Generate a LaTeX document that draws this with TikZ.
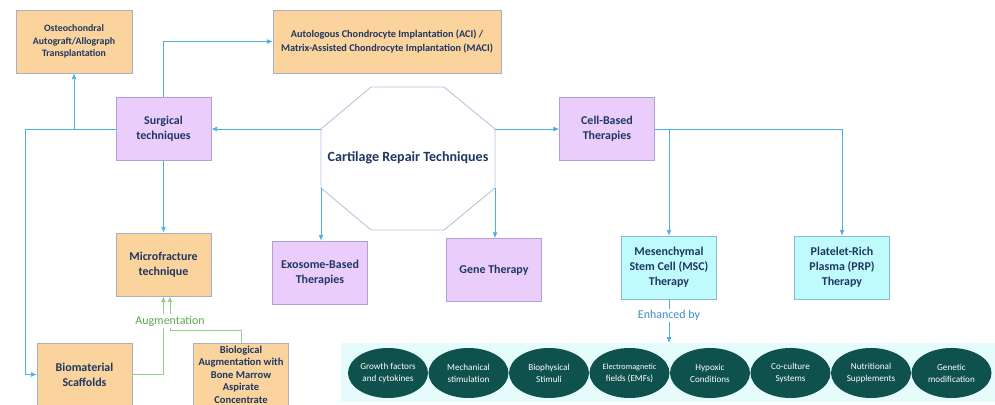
\documentclass[tikz,border=0pt]{standalone}
\usepackage{fontspec}
\setmainfont{Carlito}
\usepackage{tkz-euclide}
\usetikzlibrary{arrows.meta,shapes.geometric,positioning}

\definecolor{navy}{HTML}{1F3763}
\definecolor{peach}{HTML}{FAD49C}
\definecolor{lilac}{HTML}{EBCDFB}
\definecolor{aqua}{HTML}{BFFBFC}
\definecolor{peachline}{HTML}{A9AFC6}
\definecolor{lilacline}{HTML}{B3A0D6}
\definecolor{aqualine}{HTML}{8DB8D4}
\definecolor{octline}{HTML}{B5C1DF}
\definecolor{linkblue}{HTML}{4DAEE0}
\definecolor{auggreen}{HTML}{95CD8D}
\definecolor{augtext}{HTML}{5CA84E}
\definecolor{enhtext}{HTML}{3D8EC4}
\definecolor{bandfill}{HTML}{E6FCFC}
\definecolor{podfill}{HTML}{0E514D}

\tikzset{
  box/.style={line width=0.6pt, minimum width=2.375cm, minimum height=1.575cm,
    align=center, text=navy, inner sep=1pt,
    font=\bfseries\fontsize{8.5}{10.5}\selectfont},
  ortho/.style={box, draw=peachline, fill=peach},
  surg/.style={box, draw=lilacline, fill=lilac},
  cellbox/.style={box, draw=aqualine, fill=aqua},
  conn/.style={draw=linkblue, line width=0.5pt, -{Latex[length=4pt,width=3.5pt]}},
  augline/.style={draw=auggreen, line width=0.6pt},
  aug/.style={augline, -{Latex[length=4pt,width=3.5pt]}},
  pod/.style={ellipse, fill=podfill, text=white, minimum width=2cm,
    minimum height=1.25cm, inner sep=0pt, align=center,
    font=\fontsize{6.5}{8.5}\selectfont}
}

\begin{document}
\begin{tikzpicture}[x=0.025cm,y=-0.025cm]
  \useasboundingbox (0,0) rectangle (995,405);
  \tkzDefPoints{371/87/A,444/87/B,495/129/C,495/188/D,444/230/E,371/230/F,321/188/G,321/129/H}
  \tkzDrawPolygon[draw=octline,fill=white,line width=0.6pt](A,B,C,D,E,F,G,H)
  \node[text=navy,font=\bfseries\fontsize{10}{12}\selectfont] (crt) at (408,158) {Cartilage Repair Techniques};

  \node[ortho,minimum width=2.9cm,font=\bfseries\fontsize{7}{9}\selectfont] (osteo) at (74,41.5) {Osteochondral\\Autograft/Allograph\\Transplantation};
  \node[ortho,minimum width=5.7cm,font=\bfseries\fontsize{7.3}{10}\selectfont] (aci) at (387,41.5) {Autologous Chondrocyte Implantation (ACI) /\\Matrix-Assisted Chondrocyte Implantation (MACI)};
  \node[surg] (surgt) at (163.5,129) {Surgical\\techniques};
  \node[surg] (cellb) at (607,129) {Cell-Based\\Therapies};
  \node[ortho] (micro) at (163.5,264.5) {Microfracture\\technique};
  \node[surg] (exo) at (320,272.5) {Exosome-Based\\Therapies};
  \node[surg] (gene) at (494,270) {Gene Therapy};
  \node[cellbox] (msc) at (669,267.5) {Mesenchymal\\Stem Cell (MSC)\\Therapy};
  \node[cellbox] (prp) at (842,267.5) {Platelet-Rich\\Plasma (PRP)\\Therapy};
  \node[ortho] (bio) at (84.5,374.5) {Biomaterial\\Scaffolds};
  \node[ortho,inner sep=0pt,font=\bfseries\fontsize{7.5}{8.9}\selectfont] (baug) at (241,374.5) {Biological\\Augmentation with\\Bone Marrow\\Aspirate\\Concentrate};

  \node[fill=bandfill,minimum width=16.35cm,minimum height=1.475cm,inner sep=0pt] (band) at (668,372.5) {};
  \foreach \lbl [count=\i from 0] in {Growth factors\\and cytokines,Mechanical\\stimulation,Biophysical\\Stimuli,{\fontsize{5.8}{8.5}\selectfont Electromagnetic\\fields (EMFs)},Hypoxic\\Conditions,Co-culture\\Systems,Nutritional\\Supplements,Genetic\\modification}
    \node[pod] (pod\i) at ({388+80.5*\i},373) {\lbl};

  \draw[conn] (H) -- (surgt.east);
  \draw[conn] (C) -- (cellb.west);
  \draw[conn] (G) -- (G |- exo.north);
  \draw[conn] (D) -- (D |- gene.north);
  \draw[conn] (surgt.north) |- (aci.west);
  \draw[conn] (surgt.west) -| (osteo.south);
  \coordinate (lbus) at (25,129);
  \draw[linkblue,line width=0.5pt] (surgt.west) -- (lbus);
  \draw[conn] (lbus) |- (bio.west);
  \draw[conn] (surgt.south) -- (micro.north);
  \draw[conn] (cellb.east) -| (prp.north);
  \draw[conn] (cellb.east -| msc.north) -- (msc.north);
  \draw[conn] (msc.south) -- (msc.south |- band.north)
    node[pos=0.37,fill=white,text=enhtext,inner sep=1pt,font=\fontsize{8.5}{10}\selectfont] (enh) {Enhanced by};

  \coordinate (augj) at (170,330);
  \draw[aug] (bio.east) -| (micro.south);
  \draw[augline] (baug.north) |- (augj);
  \draw[aug] (augj) -- (augj |- micro.south);
  \node[fill=white,text=augtext,inner sep=1pt,font=\fontsize{8.5}{10}\selectfont] (augt) at (170,321) {Augmentation};
\end{tikzpicture}
\end{document}
